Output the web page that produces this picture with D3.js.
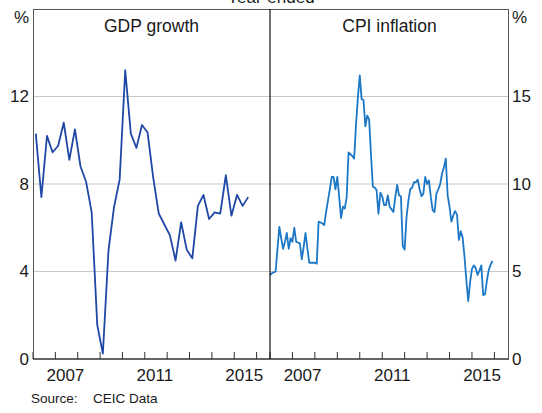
<!DOCTYPE html>
<html>
<head>
<meta charset="utf-8">
<script src="https://cdn.jsdelivr.net/npm/d3@7"></script>
<style>
  body { margin: 0; background: #fff; }
  text { font-family: Arial, 'Liberation Sans', sans-serif; fill: #1a1a1a; }
</style>
</head>
<body>
<div id="chart"></div>
<script>
// year-ended GDP growth, quarterly from 2006 Q1
const gdpGrowth = [
  10.3, 7.4, 10.2, 9.45, 9.75, 10.8, 9.1, 10.5, 8.8, 8.1,
  6.7, 1.55, 0.25, 4.95, 6.95, 8.2, 13.2, 10.3, 9.65, 10.7,
  10.35, 8.3, 6.65, 6.15, 5.65, 4.5, 6.25, 5.0, 4.6, 7.0,
  7.5, 6.4, 6.7, 6.65, 8.4, 6.55, 7.5, 7.0, 7.4
]

// year-ended CPI inflation, monthly from Jan 2006
const cpiInflation = [
  4.8, 4.9, 4.95, 5.0, 6.3, 7.55, 6.9, 6.3, 6.7, 7.2,
  6.3, 6.9, 6.7, 7.5, 6.7, 6.65, 6.6, 5.7, 6.4, 7.2,
  6.3, 5.5, 5.5, 5.5, 5.5, 5.45, 7.85, 7.8, 7.75, 7.65,
  8.4, 9.05, 9.7, 10.4, 10.4, 9.7, 10.4, 9.25, 8.05, 8.7,
  8.6, 9.25, 11.8, 11.7, 11.6, 11.45, 13.4, 14.95, 16.2, 14.85,
  14.8, 13.3, 13.9, 13.7, 11.7, 9.85, 9.8, 9.65, 8.3, 9.5,
  9.3, 8.8, 8.8, 9.35, 8.7, 8.55, 8.4, 9.25, 9.95, 9.35,
  9.3, 6.45, 6.25, 8.1, 9.05, 9.7, 9.8, 10.1, 10.1, 10.25,
  9.7, 9.3, 9.45, 10.4, 10.0, 10.2, 9.25, 8.5, 8.4, 9.45,
  9.7, 10.0, 10.6, 10.95, 11.45, 9.35, 8.7, 7.85, 8.2, 8.45,
  8.25, 6.8, 7.3, 6.95, 5.85, 4.5, 3.3, 4.4, 5.15, 5.35,
  5.2, 4.8, 5.05, 5.35, 3.65, 3.7, 4.5, 5.1, 5.4, 5.6
]

const panelTitles = ['GDP growth', 'CPI inflation']
const gdpTicks = [0, 4, 8, 12]
const cpiTicks = [0, 5, 10, 15]
const yearTicks = d3.range(2006, 2017)
const yearLabels = [2007, 2011, 2015]

const width = 542
const height = 413
const margin = { top: 9, left: 33, right: 33, bottom: 54 }
const mid = 270

const svg = d3
  .select('#chart')
  .append('svg')
  .attr('width', width)
  .attr('height', height)

const yLeft = d3.scaleLinear().domain([0, 16]).range([height - margin.bottom, margin.top])
const yRight = d3.scaleLinear().domain([0, 20]).range([height - margin.bottom, margin.top])
const xLeft = d3.scaleLinear().domain([2006, 2016.6]).range([margin.left, mid])
const xRight = d3.scaleLinear().domain([2006, 2016.65]).range([mid, width - margin.right])

const bottom = height - margin.bottom

// gridlines
svg.selectAll('.grid-l')
  .data(gdpTicks.slice(1))
  .enter()
  .append('line')
  .attr('x1', margin.left)
  .attr('x2', mid)
  .attr('y1', d => yLeft(d))
  .attr('y2', d => yLeft(d))
  .attr('stroke', '#c8c8c8')
  .attr('stroke-width', 1)

svg.selectAll('.grid-r')
  .data(cpiTicks.slice(1))
  .enter()
  .append('line')
  .attr('x1', mid)
  .attr('x2', width - margin.right)
  .attr('y1', d => yRight(d))
  .attr('y2', d => yRight(d))
  .attr('stroke', '#c8c8c8')
  .attr('stroke-width', 1)

// year ticks (pointing up into the panels)
svg.selectAll('.tick-l')
  .data(yearTicks)
  .enter()
  .append('line')
  .attr('x1', d => xLeft(d))
  .attr('x2', d => xLeft(d))
  .attr('y1', bottom)
  .attr('y2', bottom - 7)
  .attr('stroke', '#333')

svg.selectAll('.tick-r')
  .data(yearTicks)
  .enter()
  .append('line')
  .attr('x1', d => xRight(d))
  .attr('x2', d => xRight(d))
  .attr('y1', bottom)
  .attr('y2', bottom - 7)
  .attr('stroke', '#333')

// lines
const gdpLine = d3.line()
  .x((d, i) => xLeft(2006 + i * 0.25 + 0.125))
  .y(d => yLeft(d))

const cpiLine = d3.line()
  .x((d, i) => xRight(2006 + i / 12))
  .y(d => yRight(d))

svg.append('path')
  .datum(gdpGrowth)
  .attr('d', gdpLine)
  .attr('fill', 'none')
  .attr('stroke', '#1f47a6')
  .attr('stroke-width', 1.8)
  .attr('stroke-linejoin', 'round')

svg.append('path')
  .datum(cpiInflation)
  .attr('d', cpiLine)
  .attr('fill', 'none')
  .attr('stroke', '#1c78c6')
  .attr('stroke-width', 1.8)
  .attr('stroke-linejoin', 'round')

// frame
svg.append('rect')
  .attr('x', margin.left + 0.5)
  .attr('y', margin.top + 0.5)
  .attr('width', width - margin.left - margin.right - 1)
  .attr('height', bottom - margin.top - 0.5)
  .attr('fill', 'none')
  .attr('stroke', '#555')
  .attr('stroke-width', 1)

svg.append('line')
  .attr('x1', margin.left)
  .attr('x2', width - margin.right)
  .attr('y1', bottom)
  .attr('y2', bottom)
  .attr('stroke', '#222')
  .attr('stroke-width', 1.2)

svg.append('line')
  .attr('x1', mid)
  .attr('x2', mid)
  .attr('y1', margin.top)
  .attr('y2', bottom)
  .attr('stroke', '#111')
  .attr('stroke-width', 1.2)

// y labels
svg.selectAll('.ylab-l')
  .data(gdpTicks)
  .enter()
  .append('text')
  .text(d => d)
  .attr('x', 29)
  .attr('y', d => yLeft(d))
  .attr('dy', '0.35em')
  .attr('text-anchor', 'end')
  .attr('font-size', 17)

svg.selectAll('.ylab-r')
  .data(cpiTicks)
  .enter()
  .append('text')
  .text(d => d)
  .attr('x', 512)
  .attr('y', d => yRight(d))
  .attr('dy', '0.35em')
  .attr('text-anchor', 'start')
  .attr('font-size', 17)

svg.append('text').text('%')
  .attr('x', 29).attr('y', 23)
  .attr('text-anchor', 'end')
  .attr('font-size', 17)

svg.append('text').text('%')
  .attr('x', 512).attr('y', 23)
  .attr('font-size', 17)

// x labels
svg.selectAll('.xlab-l')
  .data(yearLabels)
  .enter()
  .append('text')
  .text(d => d)
  .attr('x', d => xLeft(d + 0.45))
  .attr('y', 381)
  .attr('text-anchor', 'middle')
  .attr('font-size', 17)

svg.selectAll('.xlab-r')
  .data(yearLabels)
  .enter()
  .append('text')
  .text(d => d)
  .attr('x', d => xRight(d + 0.45))
  .attr('y', 381)
  .attr('text-anchor', 'middle')
  .attr('font-size', 17)

// titles
svg.selectAll('.ptitle')
  .data(panelTitles)
  .enter()
  .append('text')
  .text(d => d)
  .attr('x', (d, i) => i === 0 ? (margin.left + mid) / 2 : (mid + width - margin.right) / 2)
  .attr('y', 31.5)
  .attr('text-anchor', 'middle')
  .attr('font-size', 17.5)

svg.append('text').text('Year-ended')
  .attr('x', 271).attr('y', 3)
  .attr('text-anchor', 'middle')
  .attr('font-size', 17)

svg.append('text').text('Source:')
  .attr('x', 31).attr('y', 403)
  .attr('font-size', 13.5)

svg.append('text').text('CEIC Data')
  .attr('x', 93).attr('y', 403)
  .attr('font-size', 13.5)
</script>
</body>
</html>
